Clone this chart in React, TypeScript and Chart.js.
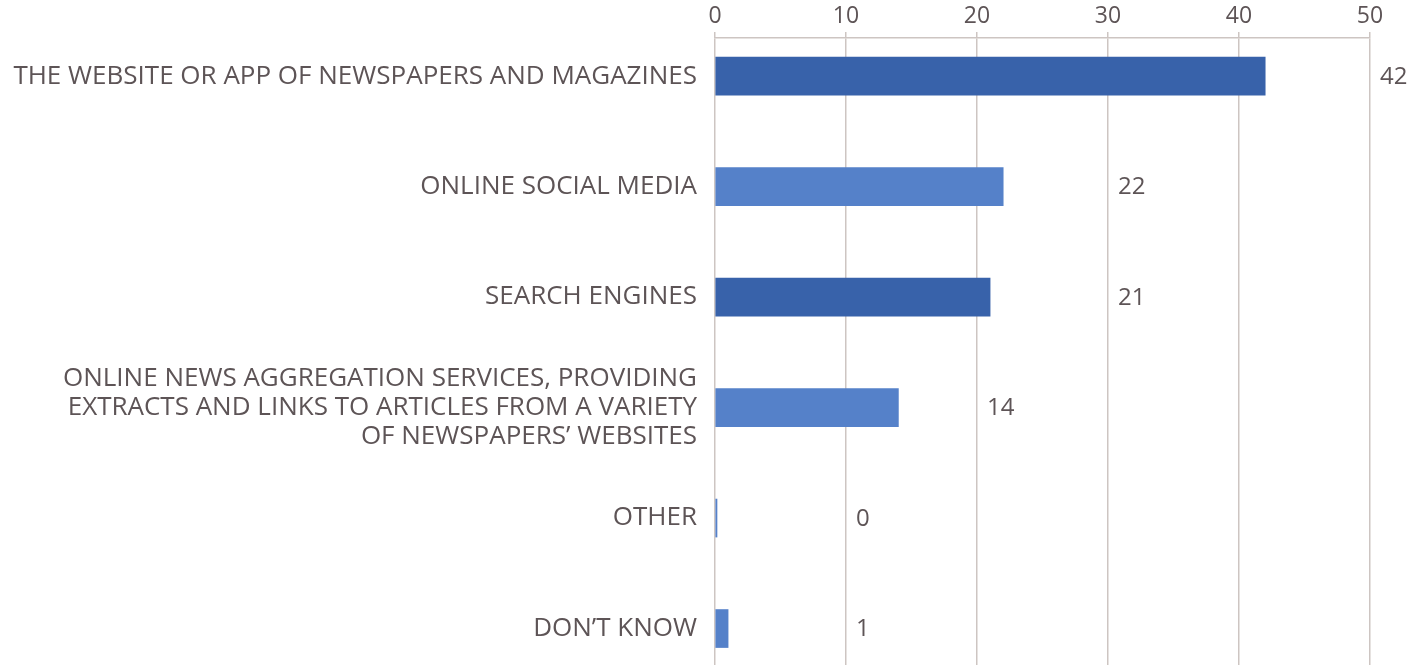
import React, { useEffect, useRef } from "react";
import { Chart, registerables } from "chart.js";

Chart.register(...registerables);

const categories: (string | string[])[] = [
  "THE WEBSITE OR APP OF NEWSPAPERS AND MAGAZINES",
  "ONLINE SOCIAL MEDIA",
  "SEARCH ENGINES",
  [
    "ONLINE NEWS AGGREGATION SERVICES, PROVIDING",
    "EXTRACTS AND LINKS TO ARTICLES FROM A VARIETY",
    "OF NEWSPAPERS\u2019 WEBSITES",
  ],
  "OTHER",
  "DON\u2019T KNOW",
];
const values = [42, 22, 21, 14, 0, 1];
const xTicks = [0, 10, 20, 30, 40, 50];

const DARK = "#3862aa";
const LIGHT = "#5581c9";
const barColors = [DARK, LIGHT, DARK, LIGHT, LIGHT, LIGHT];
const TEXT = "#5d5456";
const GRID = "#cdc5c2";
const FONT = "'Open Sans', 'Noto Sans', sans-serif";

const valueLabels = {
  id: "valueLabels",
  afterDatasetsDraw(chart: any) {
    const ctx = chart.ctx;
    const meta = chart.getDatasetMeta(0);
    const xs = chart.scales.x;
    ctx.save();
    ctx.font = `24px ${FONT}`;
    ctx.fillStyle = TEXT;
    ctx.textAlign = "left";
    ctx.textBaseline = "middle";
    meta.data.forEach((el: any, i: number) => {
      const slot = (Math.floor(values[i] / 10) + 1) * 10;
      ctx.fillText(String(values[i]), xs.getPixelForValue(slot) + 10, el.y + 1);
    });
    ctx.restore();
  },
};

export default function App() {
  const ref = useRef<HTMLCanvasElement | null>(null);
  useEffect(() => {
    document.body.style.margin = "0";
    const canvas = ref.current!;
    const chart = new Chart(canvas, {
      type: "bar",
      data: {
        datasets: [
          {
            data: values.map((v, i) => ({ x: v, y: i })) as any,
            backgroundColor: barColors,
            borderWidth: 0,
            minBarLength: 2,
            barThickness: 38,
          },
        ],
      },
      options: {
        animation: false,
        responsive: false,
        indexAxis: "y",
        layout: { padding: { right: 39, left: 0, top: 0, bottom: 0 } },
        plugins: {
          legend: { display: false },
          tooltip: { enabled: false },
        },
        scales: {
          x: {
            type: "linear",
            position: "top",
            min: 0,
            max: 50,
            afterBuildTicks: (s: any) => {
              s.ticks = xTicks.map((v) => ({ value: v }));
            },
            afterFit: (s: any) => {
              s.height = 38;
              s.paddingLeft = 0;
              s.paddingRight = 0;
            },
            ticks: {
              font: { family: FONT, size: 23 },
              color: TEXT,
              padding: 2,
            },
            grid: {
              color: GRID,
              lineWidth: 1.5,
              tickLength: 6,
              drawOnChartArea: true,
            },
            border: { color: GRID, width: 1.5 },
          },
          y: {
            type: "linear",
            reverse: true,
            offset: false,
            min: -0.345,
            max: 5.33,
            afterBuildTicks: (s: any) => {
              s.ticks = categories.map((_, i) => ({ value: i }));
            },
            afterFit: (s: any) => {
              s.width = 715;
              s.paddingTop = 0;
              s.paddingBottom = 0;
            },
            ticks: {
              callback: (v: any) => categories[v as number] ?? "",
              font: { family: FONT, size: 26, lineHeight: 1.12 },
              color: TEXT,
              padding: 18,
              autoSkip: false,
            },
            grid: { display: false, drawTicks: false, offset: false },
            border: { display: false },
          },
        },
      },
      plugins: [valueLabels],
    });
    return () => chart.destroy();
  }, []);
  return (
    <div style={{ width: 1409, height: 665 }}>
      <canvas ref={ref} width={1409} height={665} style={{ display: "block" }} />
    </div>
  );
}
